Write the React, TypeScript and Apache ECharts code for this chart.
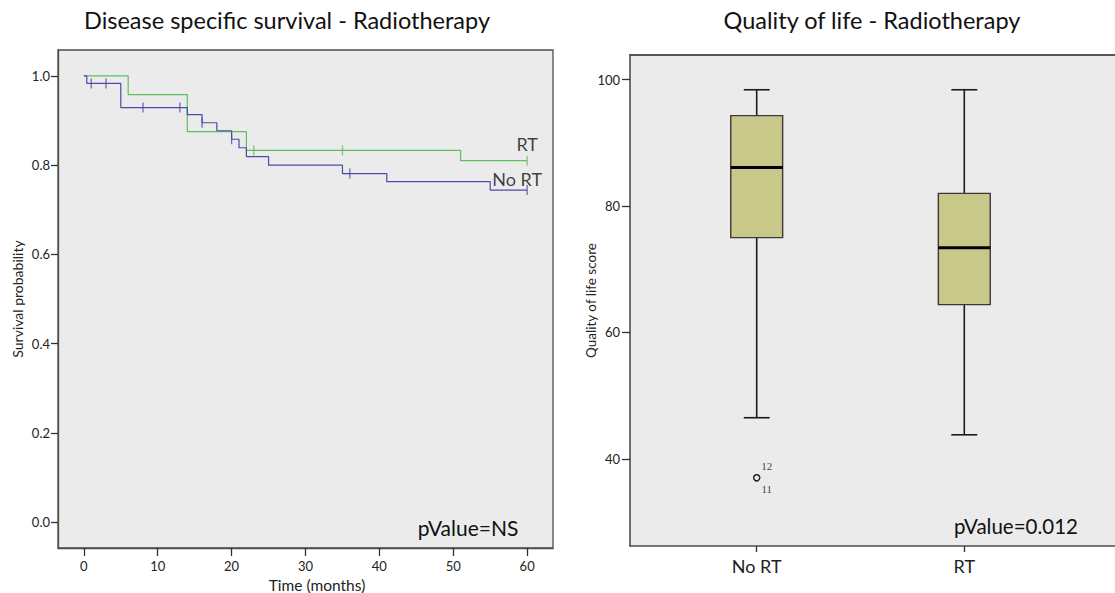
import React, { useEffect, useRef } from "react";
import * as echarts from "echarts";

// Kaplan-Meier step data: [time (months), survival probability]
const rtCurve: number[][] = [
  [0, 1.0], [6, 0.958], [14, 0.875], [22, 0.833], [51, 0.81], [60, 0.81],
];
const noRtCurve: number[][] = [
  [0, 1.0], [0.4, 0.983], [5, 0.929], [14, 0.913], [16, 0.895], [18, 0.877],
  [20, 0.858], [21, 0.839], [22, 0.819], [25, 0.8], [35, 0.781], [41, 0.763],
  [55, 0.744], [60, 0.744],
];
const rtCensored: number[][] = [[23, 0.833], [35, 0.833], [60, 0.81]];
const noRtCensored: number[][] = [
  [1, 0.983], [3, 0.983], [8, 0.929], [13, 0.929], [16, 0.895], [20, 0.858],
  [36, 0.781], [60, 0.744],
];
const timeTicks = [0, 10, 20, 30, 40, 50, 60];
const survTicks = [0, 0.2, 0.4, 0.6, 0.8, 1.0];

// Box plot: [group position, min, q1, median, q3, max]
const groupNames = ["No RT", "RT"];
const boxData: number[][] = [
  [1, 46.5, 75.0, 86.1, 94.3, 98.4],
  [2, 43.8, 64.4, 73.4, 82.0, 98.4],
];
const outliers: { value: number[]; id: string }[] = [
  { value: [1, 37.0], id: "12" },
  { value: [1, 37.0], id: "11" },
];
const qolTicks = [40, 60, 80, 100];

const GREEN = "#5fbf5f";
const BLUE = "#4b4bab";
const FONT = "Lato";
const RIGHT_W = 560;
const X2_MIN = 0.3897;
const X2_MAX = X2_MIN + RIGHT_W / 207.6;
const Y2_MIN = 26.2;
const Y2_MAX = 103.9;

export default function App() {
  const ref = useRef<HTMLDivElement>(null);
  useEffect(() => {
    if (!ref.current) return;
    const chart = echarts.init(ref.current, undefined, { renderer: "svg" });
    const lastIdx = (arr: number[][]) => arr.length - 1;
    const option: any = {
      animation: false,
      backgroundColor: "#ffffff",
      textStyle: { fontFamily: FONT },
      grid: [
        { left: 58, top: 50, width: 495, height: 498, show: true, backgroundColor: "#ebebeb", borderColor: "#4d4d4d", borderWidth: 1.3, outerBoundsMode: "none", containLabel: false },
        { left: 630, top: 55, width: RIGHT_W, height: 491, show: false, outerBoundsMode: "none", containLabel: false },
      ],
      xAxis: [
        {
          gridIndex: 0, type: "value", min: -3.5, max: 63.5,
          splitLine: { show: false },
          axisLine: { show: true, onZero: false, lineStyle: { color: "#4d4d4d", width: 1.3 } },
          axisTick: { show: true, length: 8, customValues: timeTicks, lineStyle: { color: "#333", width: 1.3 } },
          axisLabel: { customValues: timeTicks, color: "#222", fontSize: 13, fontFamily: FONT, margin: 11 },
        },
        {
          gridIndex: 1, type: "value", min: X2_MIN, max: X2_MAX, position: "bottom", z: 6,
          splitLine: { show: false },
          axisLine: { show: true, onZero: false, lineStyle: { color: "#4d4d4d", width: 1.6 } },
          axisTick: { show: true, length: 6, customValues: [1, 2], lineStyle: { color: "#333", width: 1.3 } },
          axisLabel: {
            customValues: [1, 2], color: "#222", fontSize: 18, fontFamily: FONT, margin: 11,
            formatter: (v: number) => groupNames[Math.round(v) - 1] ?? "",
          },
        },
        {
          gridIndex: 1, type: "value", min: X2_MIN, max: X2_MAX, position: "top", z: 6,
          splitLine: { show: false },
          axisLine: { show: true, onZero: false, lineStyle: { color: "#555", width: 2 } },
          axisTick: { show: false },
          axisLabel: { show: false },
        },
      ],
      yAxis: [
        {
          gridIndex: 0, type: "value", min: -0.058, max: 1.058,
          splitLine: { show: false },
          axisLine: { show: true, onZero: false, lineStyle: { color: "#4d4d4d", width: 1.3 } },
          axisTick: { show: true, length: 7, customValues: survTicks, lineStyle: { color: "#333", width: 1.3 } },
          axisLabel: { customValues: survTicks, color: "#222", fontSize: 13, fontFamily: FONT, margin: 8, formatter: (v: number) => v.toFixed(1) },
          name: "Survival probability", nameLocation: "middle", nameGap: 34, nameMoveOverlap: false,
          nameTextStyle: { fontSize: 14, color: "#222", fontFamily: FONT },
        },
        {
          gridIndex: 1, type: "value", min: Y2_MIN, max: Y2_MAX, z: 6,
          splitLine: { show: false },
          axisLine: { show: true, onZero: false, lineStyle: { color: "#4d4d4d", width: 1.6 } },
          axisTick: { show: true, length: 8, customValues: qolTicks, lineStyle: { color: "#333", width: 1.3 } },
          axisLabel: { customValues: qolTicks, color: "#222", fontSize: 13, fontFamily: FONT, margin: 10 },
          name: "Quality of life score", nameLocation: "middle", nameGap: 32, nameMoveOverlap: false,
          nameTextStyle: { fontSize: 13.5, color: "#222", fontFamily: FONT },
        },
      ],
      series: [
        {
          type: "line", xAxisIndex: 0, yAxisIndex: 0, step: "end", data: noRtCurve,
          showSymbol: false, symbol: "none", lineStyle: { color: BLUE, width: 1.2 }, z: 3,
        },
        {
          type: "line", xAxisIndex: 0, yAxisIndex: 0, step: "end", data: rtCurve,
          showSymbol: false, symbol: "none", lineStyle: { color: GREEN, width: 1.2 }, z: 2,
        },
        {
          type: "scatter", xAxisIndex: 0, yAxisIndex: 0, symbol: "rect", symbolSize: [1.3, 10],
          itemStyle: { color: BLUE },
          data: noRtCensored.map((d, i) => i === lastIdx(noRtCensored)
            ? { value: d, label: { show: true, formatter: "No RT", position: "inside", offset: [-10, -11], fontSize: 18, color: "#111", fontFamily: FONT } }
            : { value: d }),
          z: 4,
        },
        {
          type: "scatter", xAxisIndex: 0, yAxisIndex: 0, symbol: "rect", symbolSize: [1.3, 10],
          itemStyle: { color: GREEN },
          data: rtCensored.map((d, i) => i === lastIdx(rtCensored)
            ? { value: d, label: { show: true, formatter: "RT", position: "inside", offset: [0, -17], fontSize: 18, color: "#111", fontFamily: FONT } }
            : { value: d }),
          z: 4,
        },
        {
          // plot-area background of the box plot panel
          type: "scatter", xAxisIndex: 1, yAxisIndex: 1, data: [], z: 1, silent: true,
          markArea: {
            silent: true,
            itemStyle: { color: "#ebebeb", borderWidth: 0 },
            data: [[{ coord: [X2_MIN, Y2_MIN] }, { coord: [X2_MAX, Y2_MAX] }]],
          },
        },
        {
          type: "custom", xAxisIndex: 1, yAxisIndex: 1, data: boxData,
          encode: { x: 0, y: [1, 2, 3, 4, 5] },
          renderItem: (_params: any, api: any) => {
            const x = api.value(0);
            const lo = api.coord([x, api.value(1)]);
            const q1 = api.coord([x, api.value(2)]);
            const med = api.coord([x, api.value(3)]);
            const q3 = api.coord([x, api.value(4)]);
            const hi = api.coord([x, api.value(5)]);
            const bw = api.size([0.25, 0])[0];
            const cw = api.size([0.125, 0])[0];
            const ls = { stroke: "#1a1a1a", lineWidth: 1.6, fill: "none" };
            return {
              type: "group",
              children: [
                { type: "line", shape: { x1: hi[0], y1: hi[1], x2: q3[0], y2: q3[1] }, style: ls },
                { type: "line", shape: { x1: hi[0] - cw / 2, y1: hi[1], x2: hi[0] + cw / 2, y2: hi[1] }, style: ls },
                { type: "line", shape: { x1: q1[0], y1: q1[1], x2: lo[0], y2: lo[1] }, style: ls },
                { type: "line", shape: { x1: lo[0] - cw / 2, y1: lo[1], x2: lo[0] + cw / 2, y2: lo[1] }, style: ls },
                { type: "rect", shape: { x: q3[0] - bw / 2, y: q3[1], width: bw, height: q1[1] - q3[1] }, style: { fill: "#c8c88b", stroke: "#3a3a3a", lineWidth: 1.4 } },
                { type: "line", shape: { x1: med[0] - bw / 2, y1: med[1], x2: med[0] + bw / 2, y2: med[1] }, style: { stroke: "#000", lineWidth: 3.2 } },
              ],
            };
          },
          z: 3,
        },
        {
          type: "scatter", xAxisIndex: 1, yAxisIndex: 1, symbol: "circle", symbolSize: 6,
          itemStyle: { color: "#ebebeb", borderColor: "#111", borderWidth: 1.4 },
          data: outliers.map((o, i) => ({
            value: o.value,
            label: {
              show: true, formatter: o.id, position: "inside", offset: [10, i === 0 ? -12 : 11],
              fontSize: 11, color: "#111", fontFamily: "Liberation Serif",
            },
          })),
          z: 5,
        },
      ],
      graphic: [
        { type: "text", z: 20, x: 287, y: 20, style: { text: "Disease specific survival - Radiotherapy", fontSize: 23.5, fontFamily: FONT, fill: "#111", align: "center", verticalAlign: "middle" } },
        { type: "text", z: 20, x: 872, y: 20, style: { text: "Quality of life - Radiotherapy", fontSize: 23.5, fontFamily: FONT, fill: "#111", align: "center", verticalAlign: "middle" } },
        { type: "text", z: 20, x: 317, y: 585, style: { text: "Time (months)", fontSize: 15.5, fontFamily: FONT, fill: "#222", align: "center", verticalAlign: "middle" } },
        { type: "text", z: 20, x: 468, y: 527, style: { text: "pValue=NS", fontSize: 21, fontFamily: FONT, fill: "#111", align: "center", verticalAlign: "middle" } },
        { type: "text", z: 20, x: 1016, y: 526, style: { text: "pValue=0.012", fontSize: 20.5, fontFamily: FONT, fill: "#111", align: "center", verticalAlign: "middle" } },
      ],
    };
    chart.setOption(option);
    return () => chart.dispose();
  }, []);
  return <div ref={ref} style={{ position: "fixed", left: 0, top: 0, width: 1115, height: 593 }} />;
}
